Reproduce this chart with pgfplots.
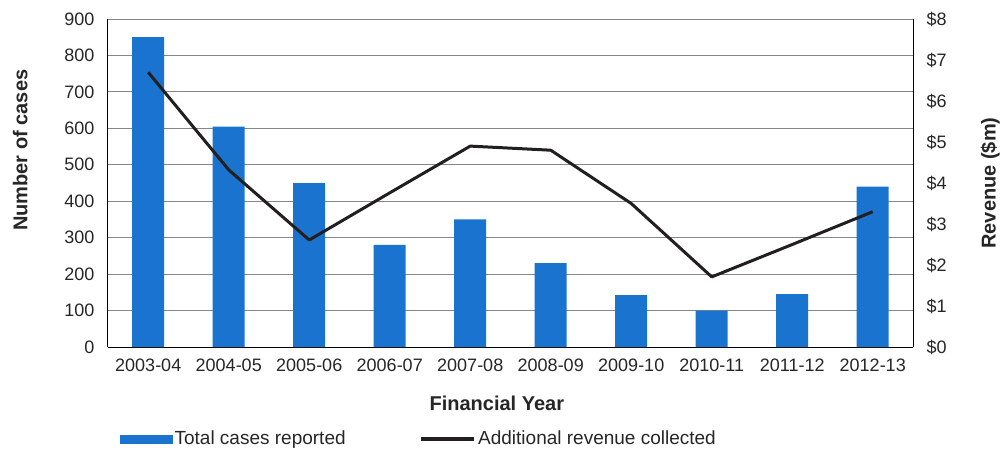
\documentclass[border=0pt]{standalone}
\usepackage{fontspec}
\setmainfont{Liberation Sans}
\usepackage{pgfplots}
\usepackage{pgfplotstable}
\pgfplotsset{compat=1.18}
\definecolor{barblue}{RGB}{26,115,206}
\definecolor{linecol}{RGB}{35,31,32}
\definecolor{gridgray}{RGB}{135,135,135}

\pgfplotstableread{
x cases revenue
0 850 6.70
1 605 4.32
2 450 2.61
3 280 3.76
4 350 4.90
5 230 4.80
6 142 3.50
7 100 1.71
8 145 2.50
9 440 3.30
}\data

\begin{document}
\begin{tikzpicture}
\pgfplotsset{
  common/.style={
    at={(0pt,0pt)}, anchor=south west,
    scale only axis, width=805pt, height=328pt,
    xmin=-0.5, xmax=9.5,
    major tick length=0pt,
    /pgf/number format/assume math mode=true,
    tick label style={font=\fontsize{18}{20}\selectfont, text=black!85},
    label style={font=\fontsize{20}{22}\selectfont\bfseries, text=black!85},
    axis line style={black, line width=1pt, -},
  }
}
\begin{axis}[
  common,
  ymin=0, ymax=900,
  ytick={0,100,...,900},
  xtick={0,...,9},
  xticklabels={2003-04,2004-05,2005-06,2006-07,2007-08,2008-09,2009-10,2010-11,2011-12,2012-13},
  axis y line*=left, axis x line*=bottom,
  x axis line style={-}, y axis line style={-},
  ymajorgrids, grid style={gridgray, line width=0.9pt},
  yticklabel style={xshift=-10pt},
  xticklabel style={yshift=-8pt},
  xlabel={Financial Year},
  xlabel style={at={(axis description cs:0.483,-0.171)}, anchor=center},
  ylabel={Number of cases},
  ylabel style={at={(axis description cs:-0.109,0.60)}, anchor=center},
]
\addplot[ybar, bar width=32pt, fill=barblue, draw=none, bar shift=0pt] table[x=x, y=cases] {\data};
\end{axis}
\begin{axis}[
  common,
  ymin=0, ymax=8,
  ytick={0,1,...,8},
  yticklabel={\$\pgfmathprintnumber{\tick}},
  axis y line*=right, axis x line=none,
  y axis line style={-},
  yticklabel style={xshift=10pt},
  ylabel={Revenue (\$m)},
  ylabel style={at={(axis description cs:1.096,0.5)}, anchor=center},
  legend style={at={(axis description cs:0.0149,-0.280)}, anchor=west,
    legend columns=2, draw=none, fill=none, inner sep=0pt,
    font=\fontsize{19}{21}\selectfont, text=black!85,
    /tikz/every even column/.append style={column sep=72pt}},
]
\addlegendimage{legend image code/.code={\fill[barblue] (0pt,-4pt) rectangle (52pt,4pt);}}
\addlegendentry{Total cases reported}
\addplot[linecol, line width=3pt, line join=round,
  legend image code/.code={\draw[linecol, line width=3.5pt] (0pt,0pt) -- (53pt,0pt);}]
  table[x=x, y=revenue] {\data};
\addlegendentry{Additional revenue collected}
\end{axis}
\pgfresetboundingbox
\path[use as bounding box] (-108pt,-103pt) rectangle (894pt,347pt);
\end{tikzpicture}
\end{document}
